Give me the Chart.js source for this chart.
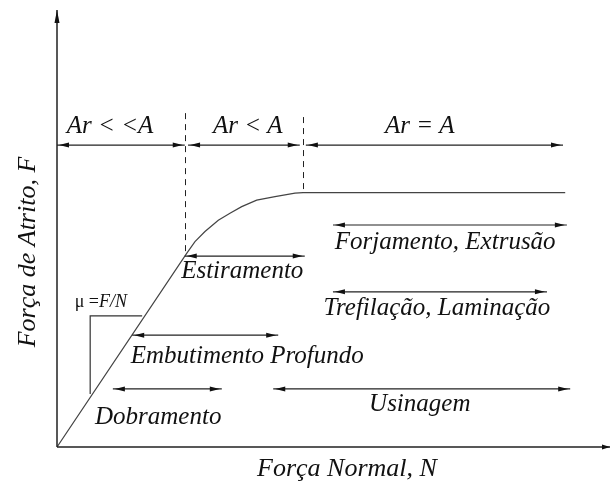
<!DOCTYPE html>
<html>
<head>
<meta charset="utf-8">
<script src="https://cdn.jsdelivr.net/npm/chart.js@4.4.1/dist/chart.umd.min.js"></script>
<style>
  body { margin: 0; background: #fff; }
  #wrap { width: 611px; height: 490px; }
</style>
</head>
<body>
<div id="wrap"><canvas id="mycanvas" width="611" height="490"></canvas></div>
<script>
// curva de atrito (N em %, F em %)
var curveN = [0, 23.45, 24.95, 26.76, 29.17, 31.28, 33.40, 36.11, 39.42, 43.04, 44.48, 91.9];
var curveF = [0, 44.3, 47.0, 49.3, 51.9, 53.5, 55.0, 56.5, 57.3, 58.1, 58.2, 58.2];

// triangulo mu = F/N
var slopeN = [6.0, 6.0, 15.4];
var slopeF = [12.1, 30.0, 30.0];

// regioes de contato
var regionLabels = ['Ar < <A', 'Ar < A', 'Ar = A'];
var regionStart = [0, 23.7, 45.0];
var regionEnd = [23.1, 43.9, 91.5];
var regionLevel = 69.1;
var boundaryN = [23.1, 44.5];
var boundaryTop = [76.4, 75.5];
var boundaryBottom = [44.3, 58.2];

// processos
var processLabels = ['Estiramento', 'Embutimento Profundo', 'Dobramento', 'Usinagem',
                     'Forjamento, Extrusão', 'Trefilação, Laminação'];
var processStart = [23.1, 13.6, 10.1, 39.1, 49.9, 49.9];
var processEnd = [44.8, 40.0, 29.8, 92.8, 92.2, 88.6];
var processLevel = [43.7, 25.6, 13.3, 13.3, 50.8, 35.5];

// posicao dos textos
var regionTextN = [9.6, 34.5, 65.6];
var regionTextF = [73.4, 73.4, 73.4];
var processTextN = [33.5, 34.4, 18.3, 65.6, 70.2, 68.7];
var processTextF = [40.2, 20.8, 6.8, 9.8, 46.9, 31.6];

var serif = "'Liberation Serif', 'DejaVu Serif', serif";

function pts(xs, ys) {
    var out = [];
    for (var i in xs) {
        out.push({ x: xs[i], y: ys[i] });
    }
    return out;
}

function arrowLine(ctx, xa, xb, y) {
    ctx.beginPath();
    ctx.moveTo(xa, y);
    ctx.lineTo(xb, y);
    ctx.stroke();
    // pontas
    ctx.beginPath();
    ctx.moveTo(xa + 2, y);
    ctx.lineTo(xa + 12, y - 2.5);
    ctx.lineTo(xa + 12, y + 2.5);
    ctx.closePath();
    ctx.fill();
    ctx.beginPath();
    ctx.moveTo(xb - 2, y);
    ctx.lineTo(xb - 12, y - 2.5);
    ctx.lineTo(xb - 12, y + 2.5);
    ctx.closePath();
    ctx.fill();
}

var diagram = {
    id: 'diagram',
    afterDatasetsDraw: function (chart) {
        var ctx = chart.ctx;
        var xs = chart.scales.x;
        var ys = chart.scales.y;
        var x0 = xs.getPixelForValue(0);
        var y0 = ys.getPixelForValue(0);
        var xEnd = xs.getPixelForValue(100);
        var yEnd = ys.getPixelForValue(100);

        ctx.save();
        ctx.strokeStyle = '#222';
        ctx.fillStyle = '#111';

        // eixos
        ctx.lineWidth = 1.5;
        ctx.beginPath();
        ctx.moveTo(x0, y0);
        ctx.lineTo(x0, yEnd);
        ctx.moveTo(x0, y0);
        ctx.lineTo(xEnd, y0);
        ctx.stroke();
        ctx.beginPath();
        ctx.moveTo(x0, yEnd);
        ctx.lineTo(x0 - 2.5, yEnd + 13);
        ctx.lineTo(x0 + 2.5, yEnd + 13);
        ctx.closePath();
        ctx.fill();
        ctx.beginPath();
        ctx.moveTo(xEnd, y0);
        ctx.lineTo(xEnd - 8, y0 - 2.5);
        ctx.lineTo(xEnd - 8, y0 + 2.5);
        ctx.closePath();
        ctx.fill();

        // linhas tracejadas
        ctx.lineWidth = 1;
        ctx.setLineDash([6, 5]);
        for (var i in boundaryN) {
            var bx = Math.round(xs.getPixelForValue(boundaryN[i])) + 0.5;
            ctx.beginPath();
            ctx.moveTo(bx, ys.getPixelForValue(boundaryTop[i]));
            ctx.lineTo(bx, ys.getPixelForValue(boundaryBottom[i]));
            ctx.stroke();
        }
        ctx.setLineDash([]);

        // setas
        ctx.lineWidth = 1.2;
        for (var r in regionStart) {
            arrowLine(ctx, xs.getPixelForValue(regionStart[r]), xs.getPixelForValue(regionEnd[r]),
                      ys.getPixelForValue(regionLevel));
        }
        for (var p in processStart) {
            arrowLine(ctx, xs.getPixelForValue(processStart[p]), xs.getPixelForValue(processEnd[p]),
                      ys.getPixelForValue(processLevel[p]));
        }

        // textos
        ctx.textAlign = 'center';
        ctx.textBaseline = 'middle';
        ctx.font = 'italic 25px ' + serif;
        for (var t in regionLabels) {
            ctx.fillText(regionLabels[t], xs.getPixelForValue(regionTextN[t]), ys.getPixelForValue(regionTextF[t]));
        }
        for (var q in processLabels) {
            ctx.fillText(processLabels[q], xs.getPixelForValue(processTextN[q]), ys.getPixelForValue(processTextF[q]));
        }

        // mu = F/N
        ctx.textAlign = 'left';
        ctx.font = '18px ' + serif;
        var mx = xs.getPixelForValue(3.2);
        var my = ys.getPixelForValue(33.2);
        ctx.fillText('\u03bc =', mx, my);
        var w = ctx.measureText('\u03bc =').width;
        ctx.font = 'italic 18px ' + serif;
        ctx.fillText('F/N', mx + w, my);

        // titulos dos eixos
        ctx.textAlign = 'center';
        ctx.font = 'italic 26px ' + serif;
        ctx.fillText('Força Normal, N', 347, 469);
        ctx.translate(28, 252);
        ctx.rotate(-Math.PI / 2);
        ctx.fillText('Força de Atrito, F', 0, 0);
        ctx.restore();
    }
};

var ctx = document.getElementById('mycanvas');

var chart = new Chart(ctx, {
    type: 'scatter',
    data: {
        datasets: [{
            label: 'F',
            data: pts(curveN, curveF),
            showLine: true,
            borderColor: '#444',
            borderWidth: 1.2,
            pointRadius: 0,
            tension: 0
        }, {
            label: 'mu',
            data: pts(slopeN, slopeF),
            showLine: true,
            borderColor: '#333',
            borderWidth: 1.2,
            pointRadius: 0
        }]
    },
    options: {
        responsive: false,
        animation: false,
        layout: { padding: { left: 57, right: 1, top: 10, bottom: 43 } },
        plugins: {
            legend: { display: false },
            tooltip: { enabled: false }
        },
        scales: {
            x: { type: 'linear', min: 0, max: 100, display: false },
            y: { type: 'linear', min: 0, max: 100, display: false }
        }
    },
    plugins: [diagram]
});
</script>
</body>
</html>
